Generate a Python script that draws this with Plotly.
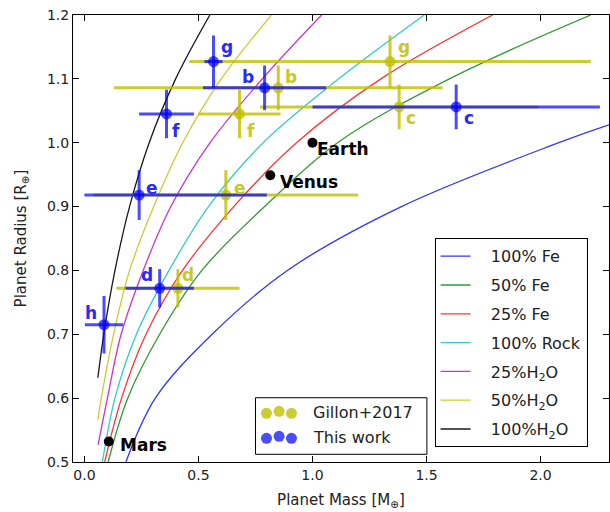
import plotly.graph_objects as go

# ---------------- data ----------------
# Model mass-radius curves (mass in Earth masses at given radius levels)
fe100_m = [0.182, 0.311, 0.56, 0.89, 1.39, 2.08, 2.30]
fe100_r = [0.50, 0.60, 0.70, 0.80, 0.90, 1.00, 1.028]
fe50_m = [0.104, 0.19, 0.33, 0.515, 0.79, 1.11, 1.60, 2.22]
fe50_r = [0.50, 0.60, 0.70, 0.80, 0.90, 1.00, 1.10, 1.20]
fe25_m = [0.089, 0.163, 0.27, 0.43, 0.655, 0.93, 1.30, 1.79]
fe25_r = [0.50, 0.60, 0.70, 0.80, 0.90, 1.00, 1.10, 1.20]
rock_m = [0.079, 0.134, 0.228, 0.371, 0.544, 0.784, 1.115, 1.49]
rock_r = [0.50, 0.60, 0.70, 0.80, 0.90, 1.00, 1.10, 1.20]
h2o25_m = [0.060, 0.101, 0.161, 0.258, 0.379, 0.551, 0.78, 1.04]
h2o25_r = [0.527, 0.60, 0.70, 0.80, 0.90, 1.00, 1.10, 1.20]
h2o50_m = [0.059, 0.074, 0.128, 0.198, 0.304, 0.431, 0.60, 0.82]
h2o50_r = [0.566, 0.60, 0.70, 0.80, 0.90, 1.00, 1.10, 1.20]
h2o100_m = [0.059, 0.085, 0.134, 0.198, 0.284, 0.40, 0.55]
h2o100_r = [0.632, 0.70, 0.80, 0.90, 1.00, 1.10, 1.20]

curve_names = ["100% Fe", "50% Fe", "25% Fe", "100% Rock",
               "25%H<sub>2</sub>O", "50%H<sub>2</sub>O", "100%H<sub>2</sub>O"]
curve_colors = ["#0000ff", "#008000", "#ff0000", "#00bfbf", "#bf00bf", "#bfbf00", "#000000"]
curve_m = [fe100_m, fe50_m, fe25_m, rock_m, h2o25_m, h2o50_m, h2o100_m]
curve_r = [fe100_r, fe50_r, fe25_r, rock_r, h2o25_r, h2o50_r, h2o100_r]

# Gillon+2017 (planets b..g)
gillon_names = ["b", "c", "d", "e", "f", "g"]
gillon_mass = [0.85, 1.38, 0.41, 0.62, 0.68, 1.34]
gillon_mass_err = [0.72, 0.61, 0.27, 0.58, 0.18, 0.88]
gillon_radius = [1.086, 1.056, 0.772, 0.918, 1.045, 1.127]
gillon_radius_err = [0.035, 0.035, 0.030, 0.039, 0.038, 0.041]

# This work (planets b..h)
work_names = ["b", "c", "d", "e", "f", "g", "h"]
work_mass = [0.79, 1.63, 0.33, 0.24, 0.36, 0.566, 0.086]
work_mass_err_plus = [0.27, 0.63, 0.15, 0.56, 0.12, 0.04, 0.084]
work_mass_err_minus = [0.27, 0.63, 0.15, 0.24, 0.12, 0.04, 0.084]
work_radius = [1.086, 1.056, 0.772, 0.918, 1.045, 1.127, 0.715]
work_radius_err = [0.035, 0.035, 0.030, 0.039, 0.038, 0.041, 0.045]

# Solar system planets
solar_names = ["Mars", "Venus", "Earth"]
solar_mass = [0.107, 0.815, 1.0]
solar_radius = [0.532, 0.949, 1.0]

dataset_names = ["Gillon+2017", "This work"]

x_ticks = [0.0, 0.5, 1.0, 1.5, 2.0]
x_tick_labels = ["0.0", "0.5", "1.0", "1.5", "2.0"]
y_ticks = [0.5, 0.6, 0.7, 0.8, 0.9, 1.0, 1.1, 1.2]
y_tick_labels = ["0.5", "0.6", "0.7", "0.8", "0.9", "1.0", "1.1", "1.2"]

# ---------------- figure ----------------
FONT = "DejaVu Sans"
YEL = "rgba(191,191,0,0.8)"
BLU = "rgba(0,0,255,0.7)"
NBSP = "\u00a0"

fig = go.Figure()

for name, color, m, r in zip(curve_names, curve_colors, curve_m, curve_r):
    fig.add_trace(go.Scatter(
        x=m, y=r, mode="lines", name=NBSP * 3 + name, legendgroup=name,
        line=dict(color=color, width=1.3, shape="spline", smoothing=1.0),
        opacity=0.8 if color != "#000000" else 0.9,
        hoverinfo="skip"))

fig.add_trace(go.Scatter(
    x=gillon_mass, y=gillon_radius, mode="markers", showlegend=False,
    marker=dict(color=YEL, size=11),
    error_x=dict(type="data", array=gillon_mass_err, color=YEL, thickness=3, width=0),
    error_y=dict(type="data", array=gillon_radius_err, color=YEL, thickness=3, width=0)))

fig.add_trace(go.Scatter(
    x=work_mass, y=work_radius, mode="markers", showlegend=False,
    marker=dict(color=BLU, size=11),
    error_x=dict(type="data", array=work_mass_err_plus, arrayminus=work_mass_err_minus,
                 color=BLU, thickness=3, width=0),
    error_y=dict(type="data", array=work_radius_err, color=BLU, thickness=3, width=0)))

fig.add_trace(go.Scatter(
    x=solar_mass, y=solar_radius, mode="markers", showlegend=False,
    marker=dict(color="black", size=10)))

annotations = []
lbl_font = dict(family=FONT, size=17, color="black")

# label offsets (pixel) for each planet letter: (xanchor, xshift, yshift)
gillon_off = {"b": ("left", 5, 11), "c": ("left", 5, -11), "d": ("left", 2, 13),
              "e": ("left", 6, 7), "f": ("left", 5, -17), "g": ("left", 6, 15)}
work_off = {"b": ("right", -9, 11), "c": ("left", 6, -11), "d": ("right", -5, 13),
            "e": ("left", 5, 7), "f": ("left", 3, -17), "g": ("left", 5, 15),
            "h": ("right", -5, 12)}

for n, m, r in zip(gillon_names, gillon_mass, gillon_radius):
    xa, xs, ys = gillon_off[n]
    annotations.append(dict(x=m, y=r, xref="x", yref="y", text="<b>%s</b>" % n,
                            showarrow=False, xanchor=xa, yanchor="middle",
                            xshift=xs, yshift=ys,
                            font=dict(family=FONT, size=17, color="rgb(200,200,40)")))
for n, m, r in zip(work_names, work_mass, work_radius):
    xa, xs, ys = work_off[n]
    annotations.append(dict(x=m, y=r, xref="x", yref="y", text="<b>%s</b>" % n,
                            showarrow=False, xanchor=xa, yanchor="middle",
                            xshift=xs, yshift=ys,
                            font=dict(family=FONT, size=17, color="rgb(40,40,255)")))
solar_off = {"Mars": (9, -3), "Venus": (8, -7), "Earth": (3, -6)}
for n, m, r in zip(solar_names, solar_mass, solar_radius):
    xs, ys = solar_off[n]
    annotations.append(dict(x=m, y=r, xref="x", yref="y", text="<b>%s</b>" % n,
                            showarrow=False, xanchor="left", yanchor="middle",
                            xshift=xs, yshift=ys, font=lbl_font))

# second legend (data sets), drawn by hand in paper coordinates
shapes = [dict(type="rect", xref="paper", yref="paper", x0=0.3405, x1=0.6603,
               y0=0.0172, y1=0.1438, line=dict(color="black", width=1),
               fillcolor="white", layer="above")]
for row_y, col, label in zip([0.1089, 0.0530], [YEL, BLU], dataset_names):
    for dx, dy in [(0.3610, 0.0), (0.3845, 0.0045), (0.4076, 0.0)]:
        shapes.append(dict(type="circle", xref="paper", yref="paper",
                           xsizemode="pixel", ysizemode="pixel",
                           xanchor=dx, yanchor=row_y + dy,
                           x0=-5.5, x1=5.5, y0=-5.5, y1=5.5,
                           fillcolor=col, line=dict(width=0), layer="above"))
    annotations.append(dict(x=0.4448, y=row_y + 0.001, xref="paper", yref="paper",
                            text=label, showarrow=False, xanchor="left", yanchor="middle",
                            font=dict(family=FONT, size=16, color="#222")))

axis_common = dict(showline=True, linecolor="black", linewidth=1, mirror="ticks",
                   ticks="inside", ticklen=6, tickcolor="black", tickwidth=1,
                   showgrid=False, zeroline=False,
                   tickfont=dict(family=FONT, size=14, color="#222"))

fig.update_layout(
    width=610, height=512,
    margin=dict(l=73, r=1, t=15, b=50),
    paper_bgcolor="white", plot_bgcolor="white",
    font=dict(family=FONT, color="#222"),
    xaxis=dict(range=[-0.05, 2.3], tickvals=x_ticks, ticktext=x_tick_labels,
               title=dict(text="Planet Mass [M<sub>⊕</sub>]", standoff=12,
                          font=dict(family=FONT, size=15, color="#222")),
               **axis_common),
    yaxis=dict(range=[0.5, 1.2], tickvals=y_ticks, ticktext=y_tick_labels,
               title=dict(text="Planet Radius [R<sub>⊕</sub>]", standoff=16,
                          font=dict(family=FONT, size=15, color="#222")),
               **axis_common),
    legend=dict(x=0.6746, y=0.5004, xanchor="left", yanchor="top",
                bordercolor="black", borderwidth=1, bgcolor="white",
                font=dict(family=FONT, size=16, color="#222"),
                traceorder="grouped", tracegroupgap=5, itemwidth=30),
    showlegend=True,
    shapes=shapes,
    annotations=annotations,
)

fig.write_html("out.html")
